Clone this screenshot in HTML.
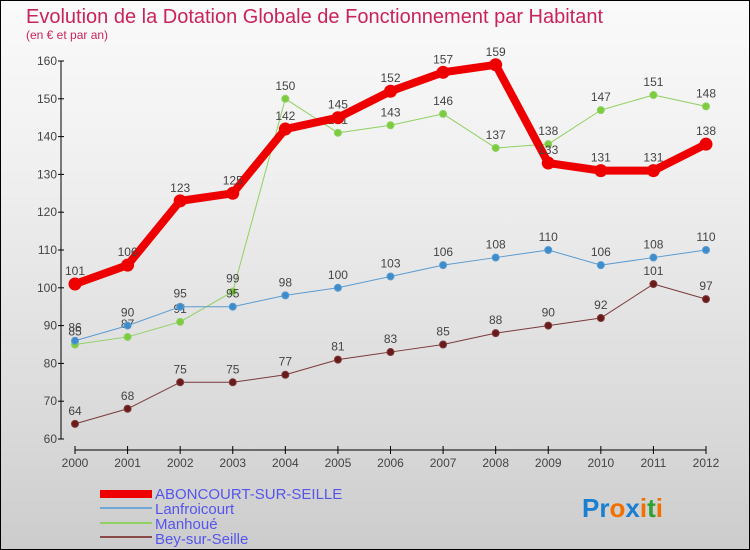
<!DOCTYPE html>
<html><head><meta charset="utf-8"><style>
body{margin:0;width:750px;height:550px;overflow:hidden;font-family:"Liberation Sans",sans-serif}
#wrap{position:absolute;left:0;top:0;width:748px;height:548px;border:1px solid #000;background:linear-gradient(#fafafa,#f0f0f0 30%,#d8d8d8 80%,#cccccc)}
</style></head><body>
<div id="wrap">
<svg width="748" height="548" viewBox="1 1 748 548" id="svg" style="position:absolute;left:0;top:0">
<text x="26" y="23" font-size="20" fill="#c8245a">Evolution de la Dotation Globale de Fonctionnement par Habitant</text>
<text x="26" y="39" font-size="12" fill="#c8245a">(en € et par an)</text>
<g id="axes"></g><g id="series"></g>
<g>
<rect x="100" y="490" width="52" height="8" fill="#e00"/>
<text x="155" y="499" font-size="15" fill="#5555ee">ABONCOURT-SUR-SEILLE</text>
<line x1="100" y1="508" x2="152" y2="508" stroke="#6fa8d6" stroke-width="2"/>
<text x="155" y="514" font-size="15" fill="#5555ee">Lanfroicourt</text>
<line x1="100" y1="523" x2="152" y2="523" stroke="#90d060" stroke-width="2"/>
<text x="155" y="529" font-size="15" fill="#5555ee">Manhoué</text>
<line x1="100" y1="537" x2="152" y2="537" stroke="#8b4a4a" stroke-width="2"/>
<text x="155" y="544" font-size="15" fill="#5555ee">Bey-sur-Seille</text>
</g>
<text x="582" y="517" font-size="26" font-weight="bold"><tspan fill="#1a7fd0">Pr</tspan><tspan fill="#f07000">o</tspan><tspan fill="#1a7fd0">x</tspan><tspan fill="#f07000">i</tspan><tspan fill="#30a030">t</tspan><tspan fill="#f07000">i</tspan></text>
</svg></div>
<script>
const years=[2000,2001,2002,2003,2004,2005,2006,2007,2008,2009,2010,2011,2012];
const yTicks=[60,70,80,90,100,110,120,130,140,150,160];
const aboncourt=[101,106,123,125,142,145,152,157,159,133,131,131,138];
const lanfroicourt=[86,90,95,95,98,100,103,106,108,110,106,108,110];
const manhoue=[85,87,91,99,150,141,143,146,137,138,147,151,148];
const bey=[64,68,75,75,77,81,83,85,88,90,92,101,97];
const NS="http://www.w3.org/2000/svg";
function X(i){return 75+i*(706-75)/(years.length-1);}
function Y(v){return 61+(160-v)*3.78;}
function mk(t,a,p){const e=document.createElementNS(NS,t);for(const k in a)e.setAttribute(k,a[k]);p.appendChild(e);return e;}
const ax=document.getElementById('axes');
const yl=mk('line',{x1:61,y1:Y(160),x2:61,y2:Y(60),stroke:'#000'},ax);


yTicks.forEach(v=>{mk('line',{x1:58,y1:Y(v),x2:64,y2:Y(v),stroke:'#000'},ax);
const t=mk('text',{x:57,y:Y(v)+4,'font-size':12,fill:'#444','text-anchor':'end'},ax);t.textContent=v;

});
const xl=mk('line',{x1:X(0),y1:450,x2:X(12),y2:450,stroke:'#000'},ax);


years.forEach((y,i)=>{mk('line',{x1:X(i),y1:446,x2:X(i),y2:454,stroke:'#000'},ax);
const t=mk('text',{x:X(i),y:467,'font-size':12,fill:'#444','text-anchor':'middle'},ax);t.textContent=y;

});
const sg=document.getElementById('series');
function draw(name,d,col,w,r,dot){
const g=mk('g',{},sg);


mk('polyline',{points:d.map((v,i)=>X(i)+','+Y(v)).join(' '),fill:'none',stroke:col,'stroke-width':w,'stroke-linejoin':'round'},g);
d.forEach((v,i)=>{const c=mk('circle',{cx:X(i),cy:Y(v),r:r,fill:dot,stroke:col,'stroke-width':1},g);


const t=mk('text',{x:X(i),y:Y(v)-9,'font-size':12,fill:'#444','text-anchor':'middle'},g);t.textContent=v;

});
}
draw('bey',bey,'#7a3a3a',1,3.5,'#6b1a1a');
draw('manhoue',manhoue,'#90d060',1,3.5,'#7ccc40');
draw('lanfroicourt',lanfroicourt,'#5b9bd0',1,3.5,'#3d8ccc');
draw('aboncourt',aboncourt,'#ee0000',8,6,'#ee0000');
</script>
</body></html>
